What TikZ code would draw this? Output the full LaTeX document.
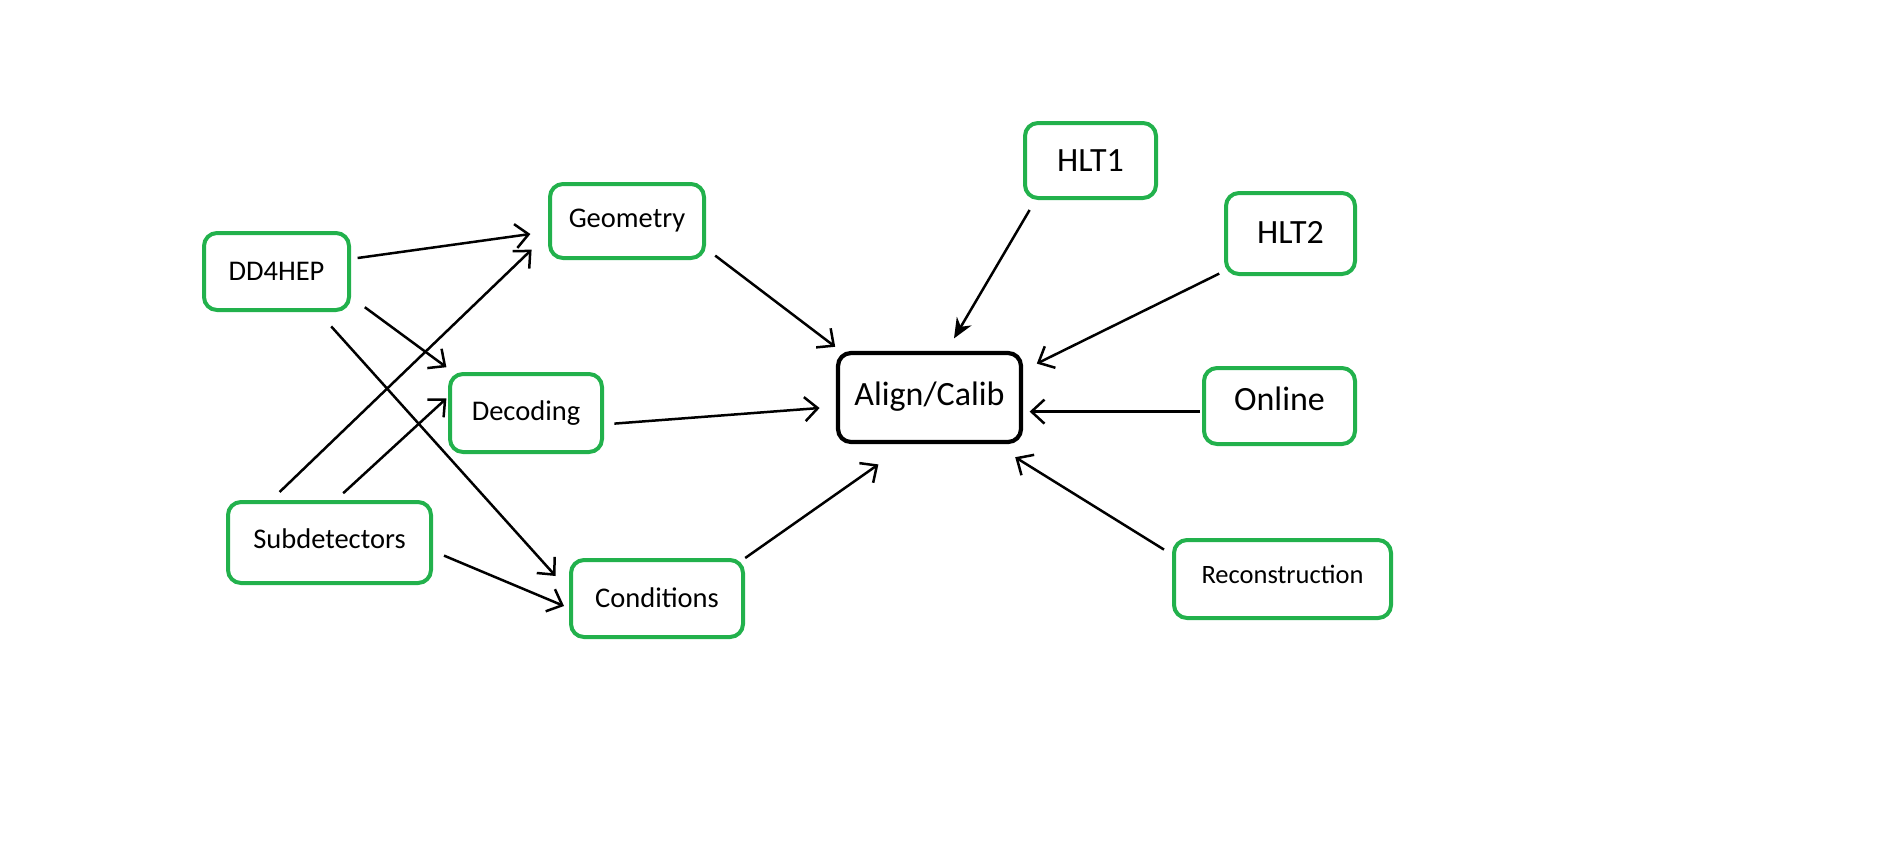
\documentclass[tikz,border=0pt]{standalone}
\usepackage{fontspec}
\setmainfont{Carlito}
\usetikzlibrary{arrows.meta}
\definecolor{pgreen}{RGB}{34,177,76}
\tikzset{
  gbox/.style={draw=pgreen, line width=4pt, rounded corners=13pt, inner sep=0pt, align=center},
  kbox/.style={draw=black, line width=4.2pt, rounded corners=13pt, inner sep=0pt, align=center},
  fsmall/.style={font=\fontsize{28.5pt}{34pt}\selectfont},
  fbig/.style={font=\fontsize{34pt}{40pt}\selectfont},
  frec/.style={font=\fontsize{26.5pt}{32pt}\selectfont},
  conn/.style={line width=2.5pt, -{Straight Barb[length=13pt,width=24pt,line width=2.5pt]}},
  connf/.style={line width=2.5pt, -{Stealth[length=20pt,width=17pt]}}
}
\begin{document}
\begin{tikzpicture}[x=1pt,y=-1pt]
\useasboundingbox (0,0) rectangle (1881,852);
\node[gbox,fsmall,minimum width=145pt,minimum height=77pt] (dd) at (276.5,271.5) {DD4HEP};
\node[gbox,fsmall,minimum width=154pt,minimum height=74pt] (geo) at (627,221) {\raisebox{5pt}{Geometry}};
\node[gbox,fsmall,minimum width=152pt,minimum height=78pt] (dec) at (526,413) {\raisebox{2.4pt}{Decoding}};
\node[gbox,fsmall,minimum width=203pt,minimum height=81pt] (sub) at (329.5,542.5) {\raisebox{7pt}{Subdetectors}};
\node[gbox,fsmall,minimum width=172pt,minimum height=77pt] (cond) at (657,598.5) {\raisebox{2.5pt}{Conditions}};
\node[kbox,fbig,minimum width=183pt,minimum height=89pt] (al) at (929.5,397.5) {\raisebox{7pt}{Align/Calib}};
\node[gbox,fbig,minimum width=131pt,minimum height=75pt] (hlta) at (1090.5,160.5) {HLT1};
\node[gbox,fbig,minimum width=129pt,minimum height=81pt] (hltb) at (1290.5,233.5) {\raisebox{2.4pt}{HLT2}};
\node[gbox,fbig,minimum width=151pt,minimum height=76pt] (onl) at (1279.5,406) {\raisebox{14pt}{Online}};
\node[gbox,frec,minimum width=217pt,minimum height=78pt] (rec) at (1282.5,579) {\raisebox{10pt}{Reconstruction}};

\draw[conn] ([shift={(81.1,-13.5)}]dd.center) -- ([shift={(-96.6,13)}]geo.center);
\draw[conn] ([shift={(88.3,35.7)}]dd.center) -- ([shift={(-79.6,-45.8)}]dec.center);
\draw[conn] ([shift={(54.7,54.9)}]dd.center) -- ([shift={(-101.4,-22.5)}]cond.center);
\draw[conn] ([shift={(-49.9,-50.5)}]sub.center) -- ([shift={(-95.4,28.6)}]geo.center);
\draw[conn] ([shift={(13.7,-49.3)}]sub.center) -- ([shift={(-79.6,-14.6)}]dec.center);
\draw[conn] ([shift={(114.5,13.1)}]sub.center) -- ([shift={(-93,7.5)}]cond.center);
\draw[conn] ([shift={(88.2,34.6)}]geo.center) -- ([shift={(-94.3,-50.7)}]al.center);
\draw[conn] ([shift={(88.4,10.6)}]dec.center) -- ([shift={(-109.9,10.5)}]al.center);
\draw[conn] ([shift={(88.2,-40.5)}]cond.center) -- ([shift={(-51.1,66.9)}]al.center);
\draw[connf] ([shift={(-60.9,49.5)}]hlta.center) -- ([shift={(24.5,-59.1)}]al.center);
\draw[conn] ([shift={(-71.3,40.1)}]hltb.center) -- ([shift={(107.3,-33.9)}]al.center);
\draw[conn] ([shift={(-79.5,5.6)}]onl.center) -- ([shift={(100.1,14.1)}]al.center);
\draw[conn] ([shift={(-118.5,-29.4)}]rec.center) -- ([shift={(85.7,59.7)}]al.center);
\end{tikzpicture}
\end{document}
